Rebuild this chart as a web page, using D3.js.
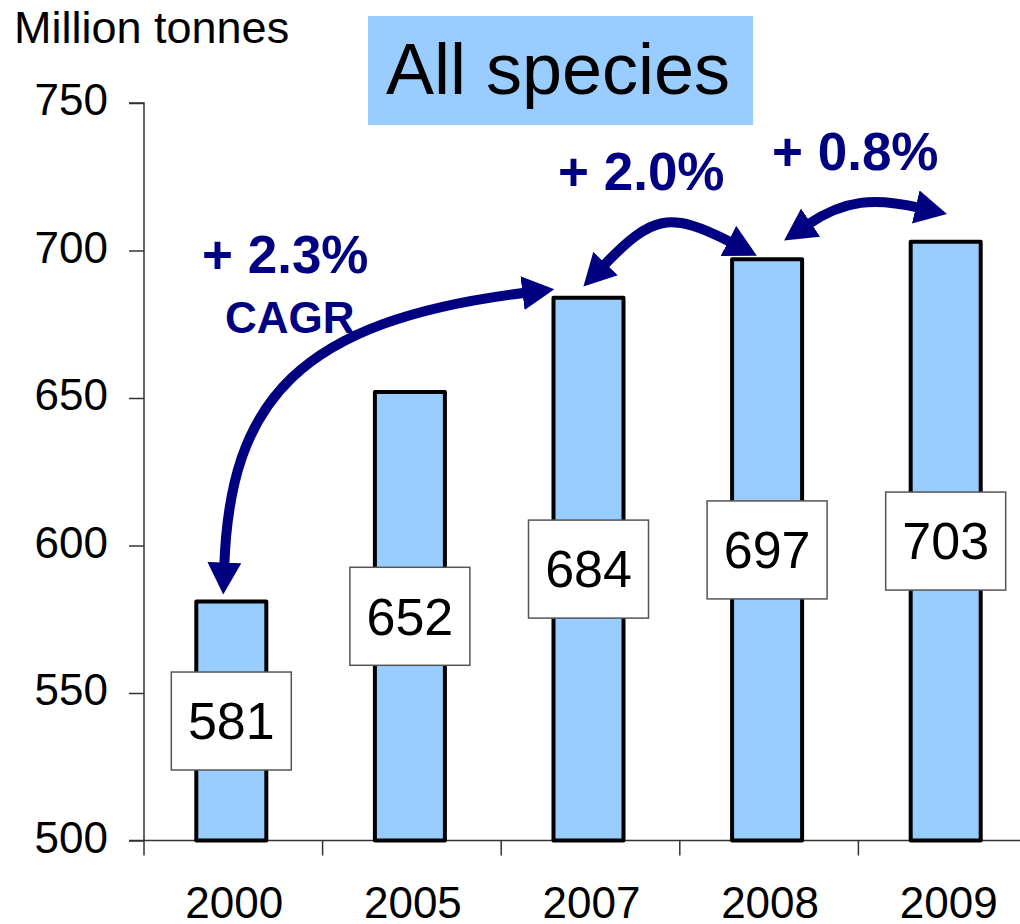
<!DOCTYPE html>
<html>
<head>
<meta charset="utf-8">
<script src="https://cdn.jsdelivr.net/npm/d3@7/dist/d3.min.js"></script>
<style>
  html, body { margin: 0; padding: 0; background: #fff; }
  svg { display: block; font-family: "Liberation Sans", Arial, sans-serif; }
</style>
</head>
<body>
<svg id="chart" width="1020" height="924"></svg>
<script>
// Global production, all species (million tonnes)
const years = ["2000", "2005", "2007", "2008", "2009"];
const production = [581, 652, 684, 697, 703];
const yTicks = [500, 550, 600, 650, 700, 750];

// Growth annotations: label text and the pair of years each arrow links
const growthLabels = ["+ 2.3%", "+ 2.0%", "+ 0.8%"];
const growthSubLabels = ["CAGR", "", ""];
const growthSpans = [["2000", "2007"], ["2007", "2008"], ["2008", "2009"]];

const title = "All species";
const unitLabel = "Million tonnes";

const navy = "#000080";
const barFill = "#99CCFF";

const svg = d3.select("#chart");

const x = d3.scaleBand()
  .domain(years)
  .range([144, 1037])
  .paddingInner(0.608)
  .paddingOuter(0.304);

const y = d3.scaleLinear()
  .domain([500, 750])
  .range([840.5, 103]);

const data = years.map((yr, i) => ({ year: yr, value: production[i] }));

// Y axis
const yAxis = svg.append("g")
  .attr("transform", "translate(144,0)")
  .call(d3.axisLeft(y).tickValues(yTicks).tickSize(15).tickPadding(21).tickFormat(d3.format("d")));
yAxis.select(".domain").attr("d", `M-15,${y(750)}H0V${y(500)}`);
yAxis.selectAll("line, path").attr("stroke", "#333").attr("stroke-width", 1.5);
yAxis.selectAll("text")
  .attr("font-size", 44)
  .attr("fill", "#000")
  .attr("dy", "0.27em")
  .style("font-family", "'Liberation Sans', Arial, sans-serif");

// X axis: baseline with ticks at the category boundaries
const step = x.step();
const half = (step - x.bandwidth()) / 2;
const xAxis = svg.append("g").attr("transform", `translate(0,${y(500)})`);
xAxis.append("line")
  .attr("x1", 129).attr("x2", 1037)
  .attr("stroke", "#333").attr("stroke-width", 1.5);
const bounds = years.map(yr => x(yr) - half).concat([x(years[years.length - 1]) + x.bandwidth() + half]);
xAxis.selectAll("line.tick")
  .data(bounds)
  .join("line")
  .attr("class", "tick")
  .attr("x1", d => d).attr("x2", d => d)
  .attr("y1", 0).attr("y2", 15)
  .attr("stroke", "#333").attr("stroke-width", 1.5);
xAxis.selectAll("text")
  .data(years)
  .join("text")
  .attr("x", d => x(d) + x.bandwidth() / 2 + 1)
  .attr("y", 77)
  .attr("text-anchor", "middle")
  .attr("font-size", 44)
  .text(d => d);

// Bars
svg.append("g").selectAll("rect")
  .data(data)
  .join("rect")
  .attr("x", d => x(d.year) - 2)
  .attr("y", d => y(d.value))
  .attr("width", x.bandwidth())
  .attr("height", d => y(500) - y(d.value))
  .attr("fill", barFill)
  .attr("stroke", "#000")
  .attr("stroke-width", 4)
  .attr("stroke-linejoin", "round");

// Value boxes centred in each bar
const boxW = 120, boxH = 98;
const labels = svg.append("g").selectAll("g")
  .data(data)
  .join("g")
  .attr("transform", d => `translate(${x(d.year) + x.bandwidth() / 2 - 2},${y((500 + d.value) / 2)})`);
labels.append("rect")
  .attr("x", -boxW / 2).attr("y", -boxH / 2)
  .attr("width", boxW).attr("height", boxH)
  .attr("fill", "#fff")
  .attr("stroke", "#555")
  .attr("stroke-width", 1.5);
labels.append("text")
  .attr("text-anchor", "middle")
  .attr("dy", "0.35em")
  .attr("font-size", 52)
  .text(d => d.value);

// Title box
const titleG = svg.append("g");
titleG.append("rect")
  .attr("x", 368).attr("y", 16)
  .attr("width", 385).attr("height", 109)
  .attr("fill", barFill);
titleG.append("text")
  .attr("x", 558).attr("y", 94)
  .attr("text-anchor", "middle")
  .attr("font-size", 72)
  .text(title);

// Unit label
svg.append("text")
  .attr("x", 14).attr("y", 43)
  .attr("font-size", 45)
  .text(unitLabel);

// Arrowhead marker
const defs = svg.append("defs");
defs.append("marker")
  .attr("id", "head")
  .attr("markerUnits", "userSpaceOnUse")
  .attr("viewBox", "0 -17 33 34")
  .attr("markerWidth", 33).attr("markerHeight", 34)
  .attr("refX", 3).attr("refY", 0)
  .attr("orient", "auto-start-reverse")
  .append("path")
  .attr("d", "M0,-17L32,0L0,17Z")
  .attr("fill", navy);

// Arrow geometry, anchored to the bar tops of the linked years
const barCx = yr => x(yr) + x.bandwidth() / 2 - 2;
const barTop = yr => y(production[years.indexOf(yr)]);
const arrowPaths = [
  ([a, b]) => {
    const p0 = [barCx(a) - 7, barTop(a) - 36], p3 = [x(b) - 30, barTop(b) - 5];
    return `M${p0}C${[barCx(a) - 1, barTop(a) - 201]} ${[barCx(a) + 67, barTop(a) - 281]} ${p3}`;
  },
  ([a, b]) => {
    const p0 = [x(a) + 48, barTop(a) - 32], p3 = [x(b) - 3, barTop(b) - 17];
    return `M${p0}C${[p0[0] + 48, p0[1] - 50]} ${[p3[0] - 62, p3[1] - 32]} ${p3}`;
  },
  ([a, b]) => {
    const p0 = [x(a) + 74, barTop(a) - 35], p3 = [x(b) + 6, barTop(b) - 34];
    return `M${p0}C${[p0[0] + 37, p0[1] - 25]} ${[p3[0] - 44, p3[1] - 10]} ${p3}`;
  }
];

svg.append("g").selectAll("path")
  .data(growthSpans)
  .join("path")
  .attr("d", (d, i) => arrowPaths[i](d))
  .attr("fill", "none")
  .attr("stroke", navy)
  .attr("stroke-width", 10)
  .attr("marker-start", "url(#head)")
  .attr("marker-end", "url(#head)");

// Growth labels
const labelPos = [[202, 273], [558, 190], [772, 170]];
const growthG = svg.append("g")
  .attr("fill", navy)
  .attr("font-weight", "bold");
growthG.selectAll("text.rate")
  .data(growthLabels)
  .join("text")
  .attr("class", "rate")
  .attr("x", (d, i) => labelPos[i][0])
  .attr("y", (d, i) => labelPos[i][1])
  .attr("font-size", 53)
  .text(d => d);
growthG.selectAll("text.sub")
  .data(growthSubLabels.filter(d => d))
  .join("text")
  .attr("class", "sub")
  .attr("x", 225).attr("y", 333)
  .attr("font-size", 44)
  .text(d => d);
</script>
</body>
</html>
